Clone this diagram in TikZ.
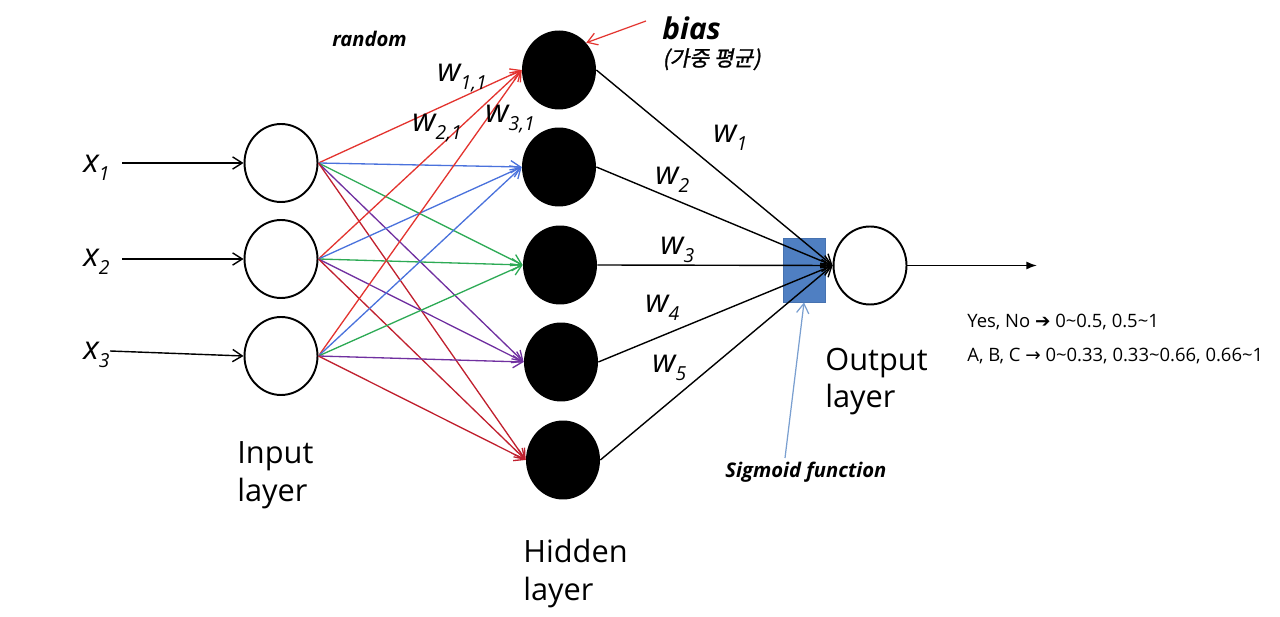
\documentclass[tikz,border=0pt]{standalone}
\usepackage{fontspec}
\setmainfont{Open Sans}
\newfontfamily\krfont[FakeSlant=0.2,FakeBold=1.2]{Noto Sans CJK KR}
\newfontfamily\symfont{DejaVu Sans}
\usetikzlibrary{shapes.geometric,arrows.meta}
\definecolor{cred}{HTML}{E3342F}
\definecolor{cblue}{HTML}{4A72DC}
\definecolor{cgreen}{HTML}{2DAA55}
\definecolor{cpurple}{HTML}{7030A0}
\definecolor{cdred}{HTML}{C0202E}
\definecolor{rectblue}{HTML}{4F7FC2}
\definecolor{rectedge}{HTML}{4672B0}
\definecolor{sigblue}{HTML}{7A9FD0}
\newcommand\wsub[2]{#1\raisebox{-4.5pt}{\fontsize{11}{11}\selectfont #2}}
\newcommand\tld{\textasciitilde}
\tikzset{
  inp/.style={ellipse,draw=black,line width=1.1pt,fill=white,minimum width=1.46cm,minimum height=1.56cm,inner sep=0pt},
  hid/.style={ellipse,fill=black,minimum width=1.48cm,minimum height=1.58cm,inner sep=0pt},
  barb/.style={-{Straight Barb[length=5.5pt,width=7pt]}},
  conn/.style={line width=0.75pt,barb},
  lbl/.style={inner sep=0pt,anchor=base west},
  layerlbl/.style={lbl,align=left,font=\fontsize{17.5}{21.5}\selectfont},
  wlbl/.style={lbl,font=\fontsize{18.5}{20}\selectfont\itshape},
  smallbi/.style={lbl,font=\fontsize{11.5}{13}\selectfont\bfseries\itshape},
  note/.style={lbl,font=\fontsize{10.5}{12}\selectfont},
}
\begin{document}
\begin{tikzpicture}[x=0.02cm,y=-0.02cm]
\useasboundingbox (0,0) rectangle (1280,617);
% sigmoid box
\node[rectangle,fill=rectblue,draw=rectedge,line width=0.5pt,minimum width=0.84cm,minimum height=1.28cm,inner sep=0pt] (sig) at (804,270) {};
% input nodes
\node[inp] (i1) at (281,163) {};
\node[inp] (i2) at (281,259) {};
\node[inp] (i3) at (281,356) {};
% hidden nodes
\node[hid] (h1) at (559,70) {};
\node[hid] (h2) at (559,167) {};
\node[hid] (h3) at (560,265) {};
\node[hid] (h4) at (561,362) {};
\node[hid] (h5) at (563,460) {};
% output node
\node[inp] (out) at (870,265.5) {};
% input labels
\node[wlbl] (x1l) at (83,173) {\wsub{x}{1}};
\node[wlbl] (x2l) at (83,267) {\wsub{x}{2}};
\node[wlbl] (x3l) at (83,360) {\wsub{x}{3}};
\coordinate (x1s) at (122,163);
\coordinate (x2s) at (122,259);
\coordinate (x3s) at (110,351);
\draw[conn,line width=0.8pt] (x1s) -- (i1.west);
\draw[conn,line width=0.8pt] (x2s) -- (i2.west);
\draw[conn,line width=0.8pt] (x3s) -- (i3.west);
% input -> hidden
\foreach \i in {1,2,3}{
  \draw[conn,cred] (i\i.east) -- (h1.west);
  \draw[conn,cblue] (i\i.east) -- (h2.west);
  \draw[conn,cgreen] (i\i.east) -- (h3.west);
  \draw[conn,cpurple] (i\i.east) -- (h4.west);
  \draw[conn,cdred] (i\i.east) -- (h5.west);
}
% hidden -> output
\foreach \j in {1,...,5}{
  \draw[conn,line width=0.8pt] (h\j.east) -- (out.west);
}
% output arrow
\coordinate (oend) at (1037,265.5);
\draw[line width=0.9pt,-{Latex[length=6pt,width=4.5pt]}] (out.east) -- (oend);
% bias
\coordinate (bs) at (646,21);
\draw[conn,cred,line width=0.7pt] (bs) -- (h1.45);
\node[lbl,font=\fontsize{17}{19}\selectfont\bfseries\itshape] (bias) at (662,40) {bias};
\node[lbl,font=\fontsize{12.2}{13}\selectfont\krfont] (kr) at (662,66) {(가중 평균)};
% random
\node[smallbi] (rnd) at (332,47) {random};
% weights
\node[wlbl] (w11) at (437,82) {\wsub{w}{1,1}};
\node[wlbl] (w21) at (412,132) {\wsub{w}{2,1}};
\node[wlbl] (w31) at (485,123) {\wsub{w}{3,1}};
\node[wlbl] (w1) at (713,143) {\wsub{w}{1}};
\node[wlbl] (w2) at (655,185) {\wsub{w}{2}};
\node[wlbl] (w3) at (660,255) {\wsub{w}{3}};
\node[wlbl] (w4) at (645,313) {\wsub{w}{4}};
\node[wlbl] (w5) at (652,373) {\wsub{w}{5}};
% sigmoid
\coordinate (sigt) at (785,458);
\draw[conn,sigblue,line width=0.7pt] (sigt) -- (sig.south);
\node[smallbi] (sigl) at (725,478) {Sigmoid function};
% layer labels (base = last line)
\node[layerlbl] (inl) at (237,501) {Input\\layer};
\node[layerlbl] (hidl) at (523,600) {Hidden\\layer};
\node[layerlbl] (outl) at (825,408) {Output\\layer};
% notes
\node[note] (yn) at (967,328) {Yes, No {\symfont\bfseries ➔} 0\tld0.5, 0.5\tld1};
\node[note] (abc) at (967,362) {A, B, C {\symfont →} 0\tld0.33, 0.33\tld0.66, 0.66\tld1};
\end{tikzpicture}
\end{document}
